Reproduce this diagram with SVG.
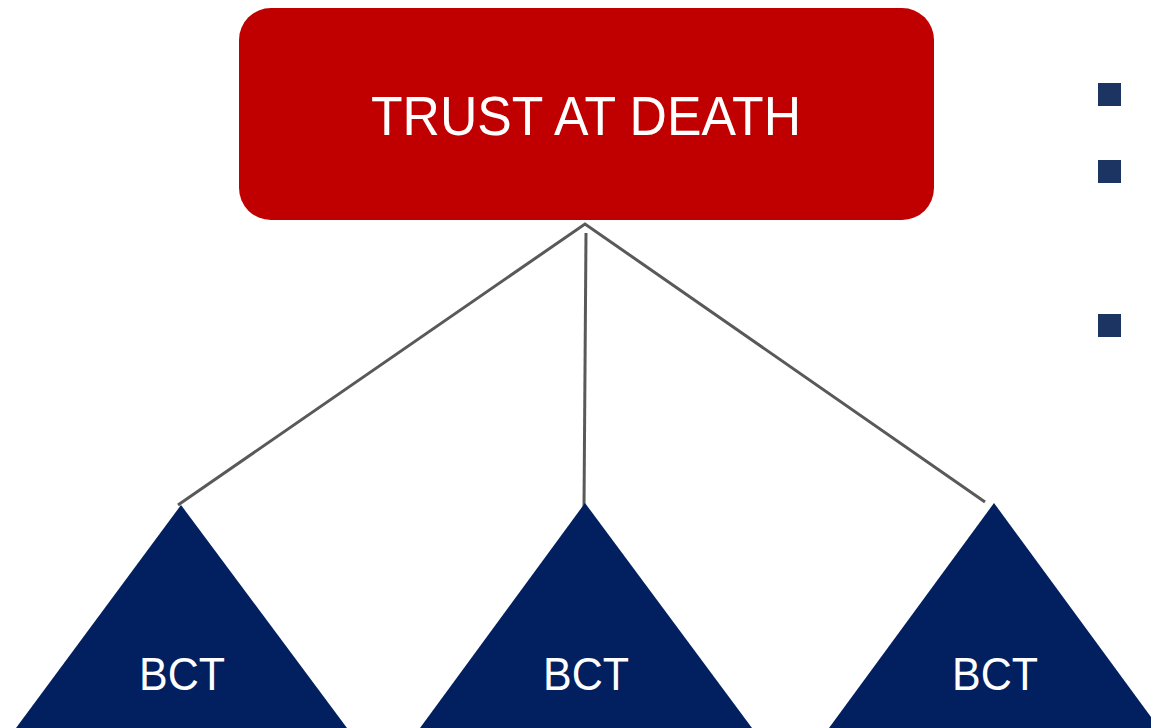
<svg xmlns="http://www.w3.org/2000/svg" width="1151" height="728" viewBox="0 0 1151 728">
<style>
.tri{fill:#022060}
.bul{fill:#1C3461}
.lbl{fill:#ffffff;font-family:"Liberation Sans",Arial,sans-serif;text-anchor:middle}
.conn{stroke:#595959;stroke-width:3;fill:none;stroke-linecap:butt}
</style>
<rect width="1151" height="728" fill="#ffffff"/>
<g id="connectors">
<path class="conn" d="M178,505 L585,224 L985,502"/>
<path class="conn" d="M586,233 L584,507"/>
</g>
<g id="trust">
<rect x="239" y="8" width="695" height="212" rx="32" ry="32" fill="#C00000"/>
<text class="lbl" x="586" y="135" font-size="55" textLength="430" lengthAdjust="spacingAndGlyphs">TRUST AT DEATH</text>
</g>
<g id="bct1">
<polygon class="tri" points="181,505 16,728 347,728"/>
<text class="lbl" x="182" y="690" font-size="46" textLength="86" lengthAdjust="spacingAndGlyphs">BCT</text>
</g>
<g id="bct2">
<polygon class="tri" points="585,503 420,728 752,728"/>
<text class="lbl" x="586" y="690" font-size="46" textLength="86" lengthAdjust="spacingAndGlyphs">BCT</text>
</g>
<g id="bct3">
<polygon class="tri" points="994,503 829,728 1159,728"/>
<text class="lbl" x="995" y="690" font-size="46" textLength="86" lengthAdjust="spacingAndGlyphs">BCT</text>
</g>
<g id="bullets">
<rect class="bul" x="1098" y="83" width="23" height="23"/>
<rect class="bul" x="1098" y="160" width="23" height="23"/>
<rect class="bul" x="1098" y="314" width="23" height="23"/>
</g>
</svg>
